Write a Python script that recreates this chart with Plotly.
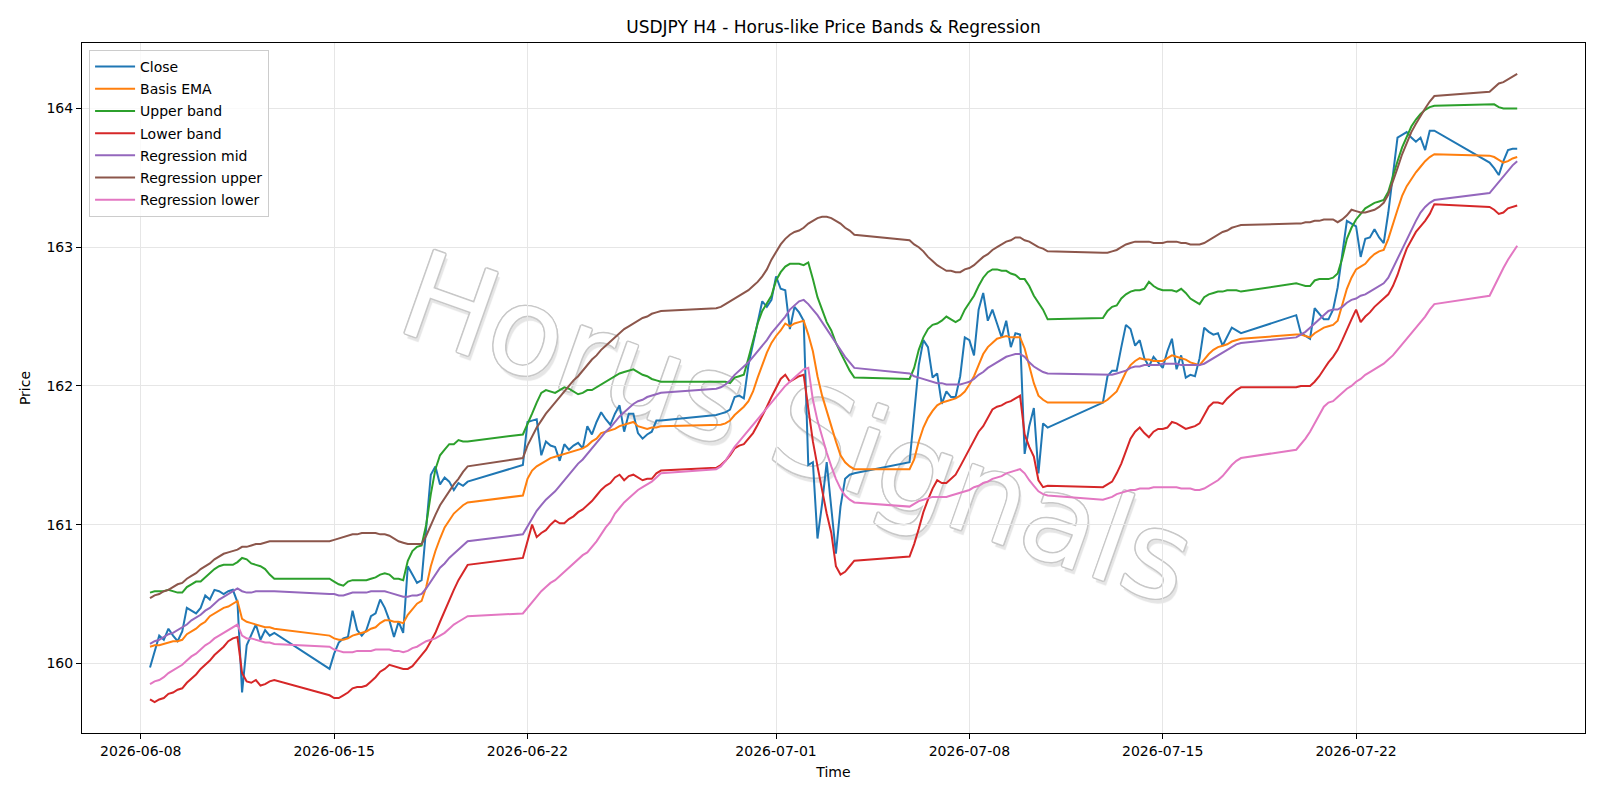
import pandas as pd
import plotly.graph_objects as go

# ---------------- data (H4 bars, FX weekly sessions Sun 20:00 -> Fri 20:00) ----------------
bar_times = pd.date_range("2026-06-08 08:00", "2026-07-27 20:00", freq="4h")
bar_times = bar_times[~((bar_times.dayofweek == 5) | ((bar_times.dayofweek == 6) & (bar_times.hour < 20)))]

close = [
    159.97, 160.08, 160.20, 160.17, 160.25, 160.20, 160.16, 160.23, 160.40, 160.38, 160.36, 160.40, 160.49, 160.46,
    160.53, 160.52, 160.50, 160.52, 160.53, 160.44, 159.79, 160.13, 160.20, 160.28, 160.17, 160.24, 160.20, 160.22,
    159.96, 160.07, 160.15, 160.18, 160.19, 160.38, 160.24, 160.20, 160.24, 160.34, 160.36, 160.46, 160.40, 160.31,
    160.19, 160.30, 160.22, 160.70, 160.64, 160.58, 160.60, 160.98, 161.36, 161.42, 161.29, 161.34, 161.31, 161.25,
    161.30, 161.28, 161.31,
    161.43, 161.74, 161.75, 161.76, 161.50, 161.60, 161.57, 161.56, 161.46, 161.58, 161.54, 161.57, 161.59, 161.55,
    161.71, 161.65, 161.74, 161.81, 161.76, 161.72, 161.80, 161.86, 161.67, 161.80, 161.80, 161.66, 161.62, 161.65,
    161.67, 161.75, 161.75,
    161.79, 161.80, 161.81, 161.83, 161.92, 161.93, 161.91, 162.15, 162.30, 162.45, 162.61, 162.57, 162.62, 162.79,
    162.70, 162.69, 162.41, 162.57, 162.53, 162.47, 161.43, 161.45, 160.90, 161.15, 161.45, 161.12, 160.79, 161.13,
    161.33, 161.36, 161.37,
    161.45, 161.80, 162.15, 162.33, 162.28, 162.06, 162.09, 161.87, 161.96, 161.92, 161.92, 162.07, 162.35, 162.33,
    162.22, 162.55, 162.67, 162.47, 162.55, 162.45, 162.35, 162.47, 162.28, 162.38, 162.37, 161.51, 161.71, 161.84,
    161.37, 161.73, 161.70,
    161.88, 162.07, 162.11, 162.11, 162.28, 162.44, 162.41, 162.29, 162.33, 162.20, 162.14, 162.21, 162.17, 162.13,
    162.25, 162.34, 162.12, 162.22, 162.06, 162.08, 162.07, 162.20, 162.42, 162.39, 162.37, 162.38, 162.29, 162.35,
    162.42, 162.40, 162.38,
    162.51, 162.38, 162.36, 162.34, 162.56, 162.52, 162.48, 162.48, 162.55, 162.71, 162.95, 163.19, 163.17, 163.15,
    162.93, 163.06, 163.07, 163.13, 163.07, 163.03, 163.25, 163.52, 163.79, 163.81, 163.83, 163.79, 163.76, 163.79,
    163.70, 163.84, 163.84,
    163.61, 163.57, 163.52, 163.62, 163.70, 163.71, 163.71,
]

basis_ema = [
    160.12, 160.13, 160.13, 160.14, 160.15, 160.16, 160.16, 160.17, 160.21, 160.23, 160.25, 160.28, 160.30, 160.34,
    160.36, 160.38, 160.40, 160.41, 160.43, 160.45, 160.32, 160.30, 160.29, 160.28, 160.27, 160.26, 160.26, 160.25,
    160.20, 160.18, 160.17, 160.17, 160.18, 160.20, 160.21, 160.22, 160.23, 160.25, 160.26, 160.29, 160.31, 160.31,
    160.30, 160.30, 160.29, 160.35, 160.39, 160.43, 160.45, 160.55, 160.70, 160.81, 160.90, 160.98, 161.03, 161.08,
    161.11, 161.14, 161.16,
    161.21, 161.33, 161.39, 161.42, 161.44, 161.46, 161.48, 161.49, 161.50, 161.51, 161.52, 161.53, 161.54, 161.55,
    161.57, 161.60, 161.62, 161.66, 161.67, 161.68, 161.69, 161.71, 161.72, 161.73, 161.74, 161.71, 161.70, 161.69,
    161.70, 161.70, 161.71,
    161.72, 161.72, 161.73, 161.75, 161.79, 161.82, 161.85, 161.89, 161.96, 162.06, 162.15, 162.24, 162.31, 162.36,
    162.40, 162.45, 162.43, 162.45, 162.46, 162.47, 162.37, 162.25, 162.07, 161.93, 161.82, 161.70, 161.60, 161.50,
    161.45, 161.42, 161.40,
    161.40, 161.47, 161.60, 161.70, 161.77, 161.82, 161.86, 161.88, 161.89, 161.90, 161.91, 161.93, 161.96, 162.01,
    162.07, 162.15, 162.23, 162.28, 162.31, 162.34, 162.35, 162.36, 162.35, 162.35, 162.35, 162.27, 162.14, 162.02,
    161.93, 161.90, 161.88,
    161.88, 161.90, 161.93, 161.96, 162.03, 162.10, 162.15, 162.18, 162.20, 162.19, 162.19, 162.18, 162.18, 162.18,
    162.20, 162.22, 162.21, 162.20, 162.19, 162.17, 162.16, 162.15, 162.19, 162.23, 162.26, 162.28, 162.29, 162.30,
    162.32, 162.33, 162.34,
    162.37, 162.37, 162.36, 162.35, 162.38, 162.40, 162.42, 162.43, 162.44, 162.47, 162.58, 162.70, 162.78, 162.84,
    162.86, 162.88, 162.92, 162.95, 162.97, 162.98, 163.06, 163.17, 163.27, 163.37, 163.44, 163.49, 163.54, 163.58,
    163.62, 163.65, 163.67,
    163.66, 163.65, 163.63, 163.61, 163.62, 163.64, 163.65,
]

upper_band = [
    160.51, 160.52, 160.52, 160.52, 160.53, 160.52, 160.51, 160.51, 160.55, 160.57, 160.59, 160.59, 160.62, 160.65,
    160.68, 160.70, 160.71, 160.71, 160.71, 160.73, 160.76, 160.75, 160.72, 160.71, 160.70, 160.68, 160.64, 160.61,
    160.61, 160.59, 160.57, 160.56, 160.59, 160.60, 160.60, 160.60, 160.60, 160.61, 160.62, 160.64, 160.65, 160.64,
    160.61, 160.61, 160.60, 160.74, 160.81, 160.84, 160.85, 161.00, 161.22, 161.40, 161.50, 161.54, 161.58, 161.58,
    161.61, 161.60, 161.60,
    161.65, 161.72, 161.80, 161.88, 161.95, 161.97, 161.96, 161.95, 161.97, 161.99, 161.98, 161.96, 161.94, 161.95,
    161.97, 161.97, 161.99, 162.01, 162.03, 162.05, 162.07, 162.09, 162.10, 162.11, 162.12, 162.10, 162.08, 162.07,
    162.05, 162.04, 162.03,
    162.03, 162.03, 162.03, 162.02, 162.06, 162.07, 162.08, 162.20, 162.33, 162.45, 162.54, 162.60, 162.65, 162.76,
    162.82, 162.86, 162.88, 162.88, 162.88, 162.87, 162.89, 162.77, 162.64, 162.55, 162.46, 162.40, 162.31, 162.24,
    162.17, 162.11, 162.06,
    162.05, 162.13, 162.26, 162.35, 162.41, 162.44, 162.45, 162.47, 162.50, 162.48, 162.46, 162.48, 162.55, 162.60,
    162.65, 162.72, 162.78, 162.82, 162.84, 162.84, 162.83, 162.83, 162.81, 162.80, 162.77, 162.77, 162.72, 162.65,
    162.60, 162.55, 162.48,
    162.49, 162.54, 162.57, 162.58, 162.63, 162.66, 162.68, 162.69, 162.69, 162.70, 162.75, 162.72, 162.70, 162.69,
    162.69, 162.69, 162.68, 162.70, 162.67, 162.63, 162.61, 162.59, 162.64, 162.66, 162.67, 162.68, 162.68, 162.69,
    162.69, 162.69, 162.68,
    162.74, 162.73, 162.72, 162.72, 162.76, 162.77, 162.77, 162.77, 162.78, 162.81, 162.92, 163.06, 163.14, 163.20,
    163.24, 163.28, 163.30, 163.32, 163.33, 163.34, 163.40, 163.52, 163.62, 163.72, 163.80, 163.87, 163.92, 163.96,
    163.99, 164.01, 164.02,
    164.03, 164.03, 164.01, 164.00, 164.00, 164.00, 164.00,
]

lower_band = [
    159.74, 159.72, 159.74, 159.75, 159.78, 159.79, 159.81, 159.82, 159.86, 159.89, 159.92, 159.96, 159.99, 160.02,
    160.06, 160.09, 160.12, 160.16, 160.18, 160.19, 159.93, 159.87, 159.86, 159.88, 159.84, 159.85, 159.87, 159.88,
    159.77, 159.75, 159.75, 159.77, 159.79, 159.82, 159.83, 159.83, 159.84, 159.87, 159.90, 159.94, 159.96, 159.99,
    159.98, 159.97, 159.96, 159.96, 159.98, 160.02, 160.06, 160.10, 160.16, 160.22, 160.30, 160.38, 160.46, 160.53,
    160.60, 160.66, 160.71,
    160.76, 160.88, 161.00, 160.91, 160.94, 160.96, 161.00, 161.03, 161.01, 161.01, 161.04, 161.06, 161.09, 161.11,
    161.14, 161.17, 161.21, 161.25, 161.28, 161.30, 161.34, 161.36, 161.32, 161.35, 161.36, 161.34, 161.32, 161.33,
    161.33, 161.37, 161.39,
    161.41, 161.43, 161.46, 161.50, 161.55, 161.57, 161.58, 161.62, 161.66, 161.72, 161.78, 161.85, 161.92, 161.99,
    162.05, 162.08, 162.03, 162.05, 162.07, 162.08, 161.85, 161.60, 161.42, 161.24, 161.08, 160.94, 160.70, 160.64,
    160.66, 160.70, 160.74,
    160.77, 160.86, 160.97, 161.09, 161.18, 161.26, 161.32, 161.30, 161.30, 161.33, 161.36, 161.42, 161.48, 161.55,
    161.61, 161.67, 161.71, 161.77, 161.83, 161.85, 161.86, 161.88, 161.89, 161.91, 161.93, 161.65, 161.56, 161.49,
    161.32, 161.27, 161.28,
    161.27, 161.29, 161.31, 161.37, 161.44, 161.53, 161.62, 161.67, 161.70, 161.66, 161.63, 161.67, 161.69, 161.69,
    161.70, 161.74, 161.73, 161.71, 161.69, 161.70, 161.71, 161.73, 161.79, 161.85, 161.88, 161.88, 161.87, 161.91,
    161.94, 161.97, 161.99,
    161.99, 162.00, 162.00, 162.00, 162.03, 162.07, 162.12, 162.17, 162.21, 162.26, 162.33, 162.41, 162.48, 162.55,
    162.46, 162.50, 162.53, 162.57, 162.60, 162.63, 162.66, 162.72, 162.80, 162.90, 162.99, 163.05, 163.11, 163.15,
    163.19, 163.24, 163.31,
    163.29, 163.27, 163.24, 163.25, 163.28, 163.29, 163.30,
]

regression_mid = [
    160.14, 160.16, 160.17, 160.19, 160.21, 160.22, 160.24, 160.26, 160.28, 160.31, 160.33, 160.35, 160.38, 160.40,
    160.43, 160.46, 160.48, 160.50, 160.52, 160.54, 160.52, 160.51, 160.51, 160.52, 160.52, 160.52, 160.52, 160.52,
    160.50, 160.50, 160.49, 160.49, 160.50, 160.51, 160.51, 160.51, 160.51, 160.52, 160.52, 160.52, 160.52, 160.51,
    160.50, 160.49, 160.48, 160.48, 160.49, 160.49, 160.50, 160.54, 160.59, 160.64, 160.69, 160.72, 160.76, 160.79,
    160.82, 160.85, 160.88,
    160.93, 160.99, 161.05, 161.10, 161.14, 161.18, 161.21, 161.24, 161.28, 161.32, 161.36, 161.40, 161.44, 161.47,
    161.51, 161.55, 161.59, 161.63, 161.67, 161.70, 161.74, 161.78, 161.81, 161.84, 161.87, 161.89, 161.90, 161.92,
    161.93, 161.94, 161.95,
    161.98, 161.99, 162.01, 162.04, 162.08, 162.11, 162.14, 162.17, 162.21, 162.25, 162.29, 162.33, 162.38, 162.42,
    162.46, 162.50, 162.55, 162.58, 162.61, 162.62, 162.59, 162.55, 162.51, 162.46, 162.41, 162.36, 162.31, 162.26,
    162.21, 162.17, 162.13,
    162.09, 162.07, 162.06, 162.05, 162.04, 162.03, 162.02, 162.02, 162.01, 162.01, 162.01, 162.01, 162.02, 162.03,
    162.05, 162.08, 162.10, 162.13, 162.15, 162.17, 162.19, 162.21, 162.22, 162.23, 162.23, 162.21, 162.17, 162.14,
    162.12, 162.10, 162.09,
    162.08, 162.08, 162.08, 162.09, 162.10, 162.11, 162.13, 162.14, 162.14, 162.15, 162.15, 162.15, 162.15, 162.16,
    162.16, 162.16, 162.16, 162.15, 162.15, 162.15, 162.15, 162.15, 162.16, 162.18, 162.20, 162.22, 162.24, 162.26,
    162.28, 162.30, 162.31,
    162.35, 162.37, 162.39, 162.42, 162.45, 162.48, 162.51, 162.54, 162.55, 162.55, 162.57, 162.60, 162.62, 162.63,
    162.65, 162.66, 162.68, 162.70, 162.72, 162.74, 162.78, 162.85, 162.92, 162.99, 163.06, 163.13, 163.19, 163.25,
    163.29, 163.32, 163.34,
    163.39, 163.43, 163.47, 163.51, 163.55, 163.59, 163.62,
]

regression_upper = [
    160.47, 160.49, 160.50, 160.52, 160.53, 160.55, 160.57, 160.58, 160.61, 160.63, 160.65, 160.68, 160.70, 160.72,
    160.75, 160.77, 160.79, 160.80, 160.81, 160.82, 160.84, 160.84, 160.85, 160.86, 160.86, 160.87, 160.88, 160.88,
    160.88, 160.89, 160.90, 160.91, 160.92, 160.93, 160.93, 160.94, 160.94, 160.94, 160.94, 160.93, 160.93, 160.92,
    160.90, 160.88, 160.87, 160.86, 160.86, 160.86, 160.86, 160.92, 161.00, 161.07, 161.14, 161.19, 161.24, 161.29,
    161.33, 161.38, 161.42,
    161.48, 161.57, 161.64, 161.70, 161.75, 161.80, 161.84, 161.88, 161.92, 161.96, 162.00, 162.04, 162.07, 162.11,
    162.15, 162.19, 162.22, 162.26, 162.29, 162.32, 162.35, 162.38, 162.41, 162.43, 162.45, 162.47, 162.49, 162.50,
    162.52, 162.53, 162.54,
    162.56, 162.57, 162.59, 162.61, 162.63, 162.65, 162.67, 162.69, 162.72, 162.75, 162.79, 162.84, 162.91, 162.97,
    163.02, 163.06, 163.09, 163.11, 163.12, 163.14, 163.17, 163.19, 163.21, 163.22, 163.22, 163.21, 163.19, 163.17,
    163.14, 163.12, 163.09,
    163.05, 163.02, 163.00, 162.97, 162.93, 162.90, 162.87, 162.85, 162.83, 162.83, 162.82, 162.82, 162.84, 162.85,
    162.87, 162.90, 162.93, 162.95, 162.98, 163.00, 163.02, 163.04, 163.05, 163.07, 163.07, 163.05, 163.04, 163.02,
    163.00, 162.99, 162.97,
    162.96, 162.96, 162.97, 162.98, 163.00, 163.02, 163.03, 163.04, 163.04, 163.04, 163.04, 163.03, 163.03, 163.03,
    163.04, 163.04, 163.04, 163.03, 163.03, 163.02, 163.02, 163.02, 163.03, 163.05, 163.07, 163.09, 163.11, 163.12,
    163.14, 163.15, 163.16,
    163.17, 163.17, 163.18, 163.18, 163.19, 163.19, 163.20, 163.20, 163.20, 163.18, 163.20, 163.23, 163.27, 163.26,
    163.25, 163.25, 163.26, 163.27, 163.29, 163.32, 163.38, 163.47, 163.57, 163.67, 163.75, 163.83, 163.89, 163.95,
    164.00, 164.05, 164.09,
    164.12, 164.15, 164.18, 164.19, 164.21, 164.23, 164.25,
]

regression_lower = [
    159.85, 159.87, 159.88, 159.90, 159.93, 159.95, 159.97, 159.99, 160.02, 160.05, 160.07, 160.10, 160.13, 160.15,
    160.18, 160.20, 160.22, 160.24, 160.26, 160.28, 160.20, 160.18, 160.18, 160.17, 160.16, 160.15, 160.15, 160.14,
    160.12, 160.10, 160.09, 160.08, 160.08, 160.08, 160.09, 160.09, 160.09, 160.09, 160.10, 160.10, 160.10, 160.10,
    160.09, 160.09, 160.08, 160.09, 160.11, 160.12, 160.14, 160.16, 160.17, 160.18, 160.20, 160.22, 160.25, 160.28,
    160.30, 160.32, 160.34,
    160.36, 160.40, 160.44, 160.48, 160.52, 160.55, 160.58, 160.60, 160.63, 160.66, 160.69, 160.72, 160.75, 160.78,
    160.80, 160.84, 160.88, 160.93, 160.98, 161.02, 161.08, 161.12, 161.16, 161.19, 161.22, 161.25, 161.27, 161.29,
    161.31, 161.34, 161.37,
    161.40, 161.42, 161.46, 161.51, 161.56, 161.60, 161.64, 161.68, 161.72, 161.76, 161.80, 161.84, 161.88, 161.92,
    161.96, 162.00, 162.03, 162.06, 162.09, 162.12, 162.13, 161.90, 161.75, 161.63, 161.52, 161.42, 161.33, 161.26,
    161.21, 161.18, 161.16,
    161.13, 161.15, 161.17, 161.18, 161.19, 161.20, 161.20, 161.20, 161.20, 161.21, 161.22, 161.23, 161.24, 161.25,
    161.27, 161.28, 161.30, 161.31, 161.33, 161.34, 161.35, 161.37, 161.38, 161.39, 161.40, 161.37, 161.32, 161.28,
    161.24, 161.22, 161.21,
    161.18, 161.19, 161.20, 161.22, 161.23, 161.24, 161.25, 161.25, 161.26, 161.26, 161.26, 161.27, 161.27, 161.27,
    161.27, 161.27, 161.27, 161.26, 161.26, 161.26, 161.25, 161.25, 161.26, 161.28, 161.30, 161.32, 161.35, 161.39,
    161.43, 161.46, 161.48,
    161.54, 161.58, 161.62, 161.67, 161.73, 161.79, 161.85, 161.88, 161.89, 161.92, 161.95, 161.98, 162.00, 162.03,
    162.05, 162.08, 162.10, 162.12, 162.14, 162.16, 162.19, 162.22, 162.26, 162.30, 162.34, 162.38, 162.42, 162.46,
    162.50, 162.55, 162.59,
    162.65, 162.72, 162.79, 162.85, 162.91, 162.96, 163.01,
]

series_names = ["Close", "Basis EMA", "Upper band", "Lower band",
                "Regression mid", "Regression upper", "Regression lower"]
series_values = [close, basis_ema, upper_band, lower_band,
                 regression_mid, regression_upper, regression_lower]
series_colors = ["#1f77b4", "#ff7f0e", "#2ca02c", "#d62728", "#9467bd", "#8c564b", "#e377c2"]

x_tick_dates = ["2026-06-08", "2026-06-15", "2026-06-22", "2026-07-01",
                "2026-07-08", "2026-07-15", "2026-07-22"]
y_ticks = [160, 161, 162, 163, 164]

for v in series_values:
    assert len(v) == len(bar_times), (len(v), len(bar_times))

# ---------------- figure ----------------
FONT = "DejaVu Sans"
fig = go.Figure()
for name, vals, col in zip(series_names, series_values, series_colors):
    fig.add_trace(go.Scatter(
        x=bar_times, y=vals, mode="lines", name=name, legendgroup=name,
        line=dict(color=col, width=2),
    ))

# watermark (drawn beneath the traces)
OUT = "#c8c8c8"
fig.add_shape(
    type="line", xref="paper", yref="paper",
    x0=0.468, x1=0.488, y0=0.454, y1=0.454,
    line=dict(color="rgba(0,0,0,0)", width=1), layer="below",
    label=dict(
        text="Horus Signals", textposition="middle", textangle=19.5,
        xanchor="center", yanchor="middle",
        font=dict(family=FONT, size=121, color="white",
                  shadow=(f"1.5px 0 0 {OUT}, -1.5px 0 0 {OUT}, 0 1.5px 0 {OUT}, 0 -1.5px 0 {OUT}, "
                          f"1px 1px 0 {OUT}, -1px -1px 0 {OUT}, 1px -1px 0 {OUT}, -1px 1px 0 {OUT}, "
                          "4px 4px 1px rgba(0,0,0,0.10)")),
    ),
)

fig.update_layout(
    width=1600, height=800,
    margin=dict(l=82, r=15, t=43, b=67),
    paper_bgcolor="white", plot_bgcolor="white",
    font=dict(family=FONT, size=14, color="black"),
    title=dict(text="USDJPY H4 - Horus-like Price Bands & Regression",
               x=0.5, xref="paper", xanchor="center",
               y=1 - 27.5 / 800, yref="container", yanchor="middle",
               font=dict(family=FONT, size=17, color="black")),
    showlegend=True,
    legend=dict(x=0.0047, y=0.9899, xanchor="left", yanchor="top",
                bgcolor="rgba(255,255,255,0.8)", bordercolor="#cccccc", borderwidth=1,
                font=dict(family=FONT, size=14, color="black"),
                tracegroupgap=1, itemwidth=40, traceorder="grouped"),
    xaxis=dict(
        type="date", range=["2026-06-05 20:54", "2026-07-30 06:55"],
        tickvals=x_tick_dates, ticktext=x_tick_dates,
        ticks="outside", ticklen=5, tickwidth=1, tickcolor="black",
        showline=True, linecolor="black", linewidth=1, mirror=True,
        showgrid=True, gridcolor="#e6e6e6", gridwidth=1, zeroline=False,
        tickfont=dict(family=FONT, size=14, color="black"),
        title=dict(text="Time", standoff=9, font=dict(family=FONT, size=14, color="black")),
    ),
    yaxis=dict(
        range=[159.498, 164.472],
        tickvals=y_ticks, ticktext=[str(t) for t in y_ticks],
        ticks="outside", ticklen=5, tickwidth=1, tickcolor="black",
        showline=True, linecolor="black", linewidth=1, mirror=True,
        showgrid=True, gridcolor="#e6e6e6", gridwidth=1, zeroline=False,
        tickfont=dict(family=FONT, size=14, color="black"),
        title=dict(text="Price", standoff=12, font=dict(family=FONT, size=14, color="black")),
    ),
)

fig.write_html("out.html")
